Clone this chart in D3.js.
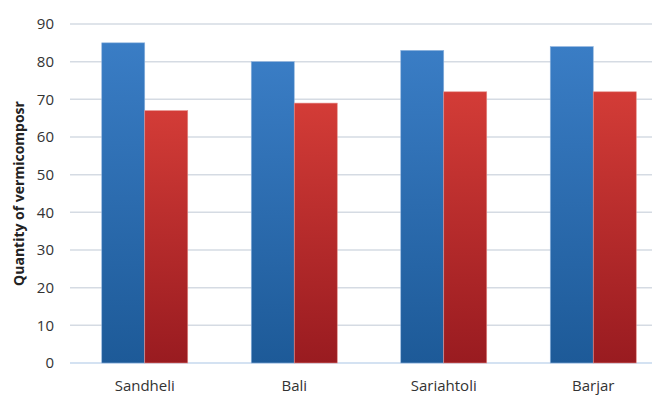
<!DOCTYPE html>
<html>
<head>
<meta charset="utf-8">
<script src="https://cdn.jsdelivr.net/npm/d3@7"></script>
<style>
  body { margin: 0; background: #fff; }
  svg { display: block; font-family: "Open Sans", "Noto Sans", sans-serif; }
</style>
</head>
<body>
<div id="chart"></div>
<script>
const categories = ["Sandheli", "Bali", "Sariahtoli", "Barjar"]
const seriesNames = ["A", "B"]
const seriesA = [85, 80, 83, 84]
const seriesB = [67, 69, 72, 72]
const yTicks = [0, 10, 20, 30, 40, 50, 60, 70, 80, 90]

const W = 652, H = 395
const margin = {top: 24, right: -16, bottom: 32, left: 70}
const width = W - margin.left - margin.right
const height = H - margin.top - margin.bottom

const svg = d3.select("#chart").append("svg")
  .attr("width", W).attr("height", H)

const defs = svg.append("defs")
function grad(id, top, bottom) {
  const g = defs.append("linearGradient").attr("id", id)
    .attr("x1", 0).attr("y1", 0).attr("x2", 0).attr("y2", 1)
    .attr("gradientUnits", "objectBoundingBox")
  g.append("stop").attr("offset", "0%").attr("stop-color", top)
  g.append("stop").attr("offset", "100%").attr("stop-color", bottom)
}
grad("gA", "#3a7dc5", "#1d5a98")
grad("gB", "#d33c37", "#991b20")

const g = svg.append("g").attr("transform", `translate(${margin.left},${margin.top})`)

const x0 = d3.scaleBand().domain(categories).range([0, width]).padding(0)
const x1 = d3.scaleBand().domain(seriesNames)
  .range([x0.bandwidth() / 2 - 43, x0.bandwidth() / 2 + 43]).padding(0)
const y = d3.scaleLinear().domain([0, 90]).range([height, 0])

// gridlines
g.append("g").selectAll("line").data(yTicks.filter(d => d > 0)).join("line")
  .attr("x1", 0).attr("x2", width)
  .attr("y1", d => y(d)).attr("y2", d => y(d))
  .attr("stroke", "#d5dbe3").attr("stroke-width", 1.5)

// baseline
g.append("line").attr("x1", 0).attr("x2", width)
  .attr("y1", y(0)).attr("y2", y(0))
  .attr("stroke", "#c6d9ee").attr("stroke-width", 1.5)

// y axis labels
const yAxis = d3.axisLeft(y).tickValues(yTicks).tickSize(0).tickPadding(16)
g.append("g").call(yAxis)
  .call(a => a.select(".domain").remove())
  .selectAll("text")
  .attr("font-size", 15).attr("fill", "#333")
  .attr("font-family", "Open Sans, sans-serif")

// x axis labels
const xAxis = d3.axisBottom(x0).tickSize(0).tickPadding(17)
g.append("g").attr("transform", `translate(0,${height})`).call(xAxis)
  .call(a => a.select(".domain").remove())
  .selectAll("text")
  .attr("font-size", 15).attr("fill", "#333")
  .attr("font-family", "Open Sans, sans-serif")

// bars
const rows = categories.map((c, i) => ({cat: c, vals: [seriesA[i], seriesB[i]]}))
const groups = g.selectAll(".grp").data(rows).join("g")
  .attr("transform", d => `translate(${x0(d.cat)},0)`)
groups.selectAll("rect").data(d => d.vals.map((v, j) => ({key: seriesNames[j], v: v}))).join("rect")
  .attr("x", d => x1(d.key))
  .attr("y", d => y(d.v))
  .attr("width", x1.bandwidth())
  .attr("height", d => y(0) - y(d.v))
  .attr("fill", d => d.key === "A" ? "url(#gA)" : "url(#gB)")
  .attr("stroke", d => d.key === "A" ? "#8fb4de" : "#e58c88")
  .attr("stroke-width", 0.6)

// y title
svg.append("text")
  .attr("transform", `translate(24,${margin.top + height / 2}) rotate(-90)`)
  .attr("text-anchor", "middle")
  .attr("font-size", 14).attr("font-weight", "bold").attr("fill", "#222")
  .text("Quantity of vermicomposr")
</script>
</body>
</html>
